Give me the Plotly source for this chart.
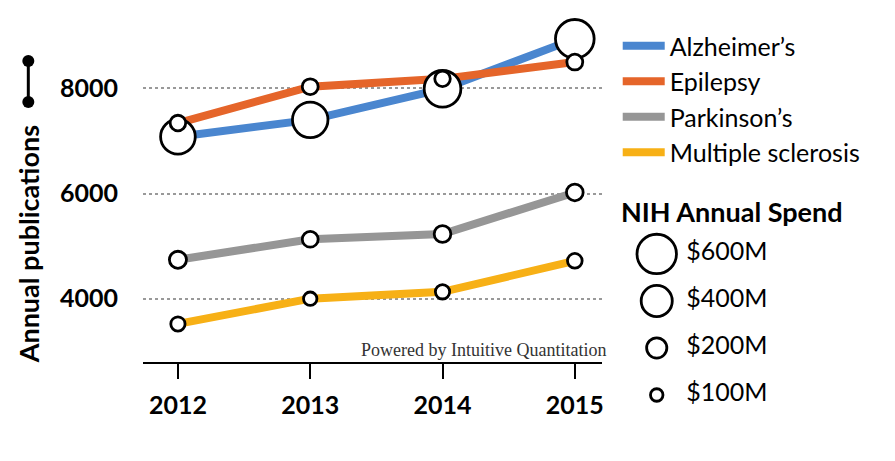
import math
import plotly.graph_objects as go

# publications per year
years = [2012, 2013, 2014, 2015]
alzheimers = [7080, 7400, 7990, 8940]
epilepsy = [7340, 8030, 8180, 8500]
parkinsons = [4740, 5130, 5230, 6020]
ms = [3520, 4000, 4130, 4720]

# NIH spend ($M) -> circle size
alz_spend = [480, 500, 530, 580]
epi_spend = [135, 140, 135, 140]
park_spend = [155, 140, 150, 150]
ms_spend = [120, 110, 120, 125]

legend_spend = [600, 400, 200, 100]
legend_labels = ['$600M', '$400M', '$200M', '$100M']
legend_rows = [3, 2, 1, 0]

y_ticks = [4000, 6000, 8000]

BLUE = '#4a86cf'
ORANGE = '#e5652a'
GRAY = '#969696'
YELLOW = '#f7b016'
FONT = 'Lato'


def spend_to_px(values):
    return [1.86 * math.sqrt(v) - 6.1 for v in values]


# page body has an 8px margin, positions below are in window pixels
def paper_x(px):
    return (px - 143) / 742


def paper_y(py):
    return (441 - py) / 431


series = [
    ('Alzheimer’s', alzheimers, alz_spend, BLUE),
    ('Epilepsy', epilepsy, epi_spend, ORANGE),
    ('Parkinson’s', parkinsons, park_spend, GRAY),
    ('Multiple sclerosis', ms, ms_spend, YELLOW),
]

fig = go.Figure()
for name, vals, spend, color in series:
    fig.add_trace(go.Scatter(x=years, y=vals, mode='lines', name=name,
                             legendgroup=name,
                             line=dict(color=color, width=8)))
for name, vals, spend, color in series:
    fig.add_trace(go.Scatter(x=years, y=vals, mode='markers', showlegend=False,
                             hoverinfo='skip',
                             marker=dict(size=spend_to_px(spend), color='white',
                                         opacity=1,
                                         line=dict(color='black', width=2.8))))

# size key
fig.add_trace(go.Scatter(x=[0.1435] * 4, y=legend_rows, mode='markers',
                         xaxis='x2', yaxis='y2', showlegend=False,
                         marker=dict(size=spend_to_px(legend_spend), color='white',
                                     opacity=1,
                                     line=dict(color='black', width=2.8))))
fig.add_trace(go.Scatter(x=[0.255] * 4, y=legend_rows, mode='text',
                         text=legend_labels, textposition='middle right',
                         textfont=dict(family=FONT, size=25, color='black'),
                         xaxis='x2', yaxis='y2', showlegend=False))

fig.update_layout(
    width=879, height=445,
    margin=dict(l=135, r=2, t=2, b=12),
    paper_bgcolor='white', plot_bgcolor='white',
    xaxis=dict(domain=[0, 0.62], range=[2011.736, 2015.204], tickvals=years,
               showgrid=False, zeroline=False, showline=True, linecolor='black',
               linewidth=2, ticks='outside', ticklen=15, tickwidth=2,
               tickcolor='black', ticklabelstandoff=5,
               tickfont=dict(family=FONT, size=25, weight='bold', color='black')),
    yaxis=dict(domain=[0.184, 1], range=[2802, 9489], tickvals=y_ticks,
               showgrid=True, gridcolor='#999999', griddash='dot', gridwidth=1.5,
               zeroline=False, showline=False, ticks='', ticklabelstandoff=24,
               tickfont=dict(family=FONT, size=25, weight='bold', color='black')),
    xaxis2=dict(domain=[0.643, 1], range=[0, 1], anchor='y2', visible=False),
    yaxis2=dict(domain=[0, 0.5], range=[-0.979, 3.606], anchor='x2', visible=False),
    legend=dict(x=paper_x(619), y=paper_y(23), xanchor='left', yanchor='top',
                font=dict(family=FONT, size=25, color='black'),
                tracegroupgap=0, itemwidth=42, traceorder='grouped',
                bgcolor='rgba(0,0,0,0)'),
    annotations=[
        dict(text='Annual publications', textangle=-90, xref='paper', yref='paper',
             x=paper_x(28), y=paper_y(244), xanchor='center', yanchor='middle',
             showarrow=False,
             font=dict(family=FONT, size=27, weight='bold', color='black')),
        dict(text='NIH Annual Spend', xref='paper', yref='paper',
             x=paper_x(620), y=paper_y(211), xanchor='left', yanchor='middle',
             showarrow=False,
             font=dict(family=FONT, size=27, weight='bold', color='black')),
        dict(text='Powered by Intuitive Quantitation', xref='paper', yref='paper',
             x=paper_x(609), y=paper_y(350), xanchor='right', yanchor='middle',
             showarrow=False,
             font=dict(family='Liberation Serif', size=18, color='#333333')),
    ],
    shapes=[
        dict(type='line', xref='paper', yref='paper',
             x0=paper_x(28), x1=paper_x(28), y0=paper_y(61), y1=paper_y(102),
             line=dict(color='black', width=3)),
        dict(type='circle', xref='paper', yref='paper', xsizemode='pixel',
             ysizemode='pixel', xanchor=paper_x(28), yanchor=paper_y(61),
             x0=-6, x1=6, y0=-6, y1=6, fillcolor='black', line=dict(width=0)),
        dict(type='circle', xref='paper', yref='paper', xsizemode='pixel',
             ysizemode='pixel', xanchor=paper_x(28), yanchor=paper_y(102),
             x0=-6, x1=6, y0=-6, y1=6, fillcolor='black', line=dict(width=0)),
    ],
)

fig.write_html('out.html')
